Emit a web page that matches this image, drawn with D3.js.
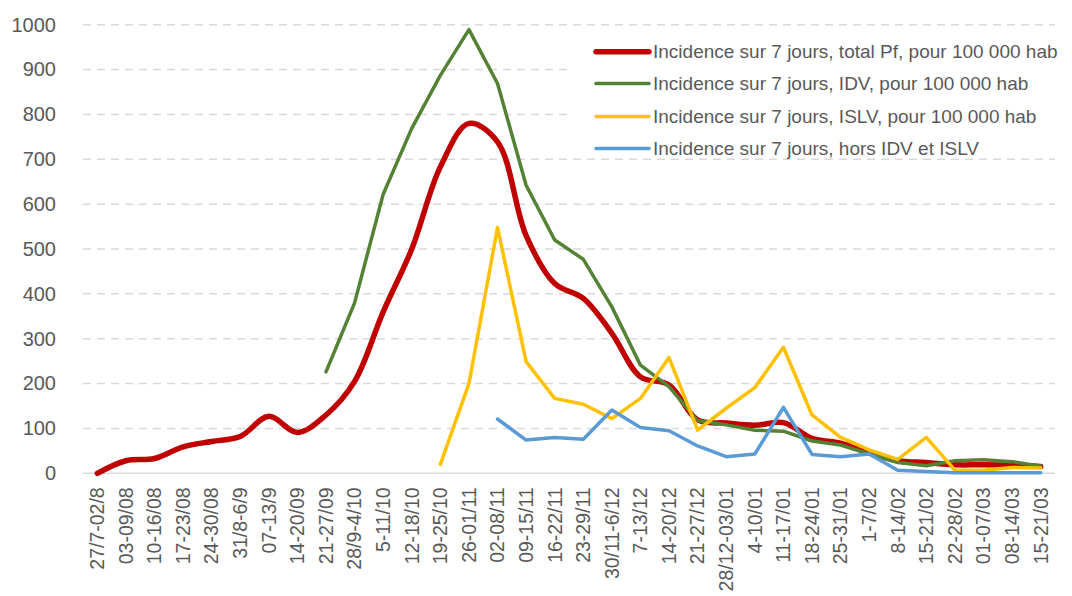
<!DOCTYPE html>
<html>
<head>
<meta charset="utf-8">
<script src="https://cdn.jsdelivr.net/npm/d3@7"></script>
<style>
  body { margin: 0; background: #fff; }
  text { font-family: "Liberation Sans", Arial, sans-serif; fill: #595959; }
</style>
</head>
<body>
<div id="chart"></div>
<script>
// weekly incidence per 100 000 inhabitants

var weeks = ["27/7-02/8", "03-09/08", "10-16/08", "17-23/08", "24-30/08", "31/8-6/9", "07-13/9",
  "14-20/09", "21-27/09", "28/9-4/10", "5-11/10", "12-18/10", "19-25/10", "26-01/11", "02-08/11",
  "09-15/11", "16-22/11", "23-29/11", "30/11-6/12", "7-13/12", "14-20/12", "21-27/12", "28/12-03/01",
  "4-10/01", "11-17/01", "18-24/01", "25-31/01", "1-7/02", "8-14/02", "15-21/02", "22-28/02",
  "01-07/03", "08-14/03", "15-21/03"];

var totalPf = [0, 28, 33, 59, 71, 82, 127, 91, 130, 205, 360, 500, 683, 780, 739, 530, 423, 390,
  312, 215, 197, 119, 112, 107, 113, 78, 67, 46, 28, 24, 19, 19, 18, 15];

var idv = [null, null, null, null, null, null, null, null, 226, 380, 622, 769, 887, 989, 869, 642,
  520, 477, 371, 241, 193, 117, 108, 96, 94, 72, 63, 43, 24, 17, 28, 30, 26, 16];

var islv = [null, null, null, null, null, null, null, null, null, null, null, null, 20, 200, 548,
  249, 167, 154, 122, 167, 258, 96, 145, 191, 281, 130, 80, 52, 31, 80, 7, 7, 13, 12];

var horsIdvIslv = [null, null, null, null, null, null, null, null, null, null, null, null, null,
  null, 121, 74, 80, 76, 141, 102, 95, 61, 37, 43, 147, 42, 37, 43, 7, 4, 1.5, 1.5, 1.5, 1.5];

var yTicks = [0, 100, 200, 300, 400, 500, 600, 700, 800, 900, 1000];

var seriesNames = ["Incidence sur 7 jours, total Pf, pour 100 000 hab",
  "Incidence sur 7 jours, IDV, pour 100 000 hab",
  "Incidence sur 7 jours, ISLV, pour 100 000 hab",
  "Incidence sur 7 jours, hors IDV et ISLV"];

var svgWidth = 1072;
var svgHeight = 596;
var margin = { top: 24.7, right: 17, bottom: 122.7, left: 83 };
var width = svgWidth - margin.left - margin.right;
var height = svgHeight - margin.top - margin.bottom;

var svg = d3.select("#chart").append("svg")
  .attr("width", svgWidth)
  .attr("height", svgHeight);

var chartGroup = svg.append("g")
  .attr("transform", `translate(${margin.left}, ${margin.top})`);

var xScale = d3.scaleBand().domain(weeks).range([0, width]).padding(0);
var yScale = d3.scaleLinear().domain([0, 1000]).range([height, 0]);
var xc = function(i) { return xScale(weeks[i]) + xScale.bandwidth() / 2; };

// gridlines
chartGroup.append("g")
  .selectAll("line")
  .data(yTicks.filter(d => d > 0))
  .enter().append("line")
  .attr("x1", 0).attr("x2", width)
  .attr("y1", d => yScale(d)).attr("y2", d => yScale(d))
  .attr("stroke", "#d9d9d9")
  .attr("stroke-width", 1.5)
  .attr("stroke-dasharray", "8,6");

chartGroup.append("line")
  .attr("x1", 0).attr("x2", width)
  .attr("y1", yScale(0)).attr("y2", yScale(0))
  .attr("stroke", "#d9d9d9")
  .attr("stroke-width", 1.5);

// y axis labels
var leftAxis = d3.axisLeft(yScale).tickValues(yTicks).tickFormat(d3.format("d"))
  .tickSize(0).tickPadding(27);
var yAxisG = chartGroup.append("g").call(leftAxis);
yAxisG.select(".domain").remove();
yAxisG.selectAll("text")
  .attr("font-size", "20px")
  .style("fill", "#595959")
  .style("font-family", "Liberation Sans, Arial, sans-serif");

// x axis labels
var bottomAxis = d3.axisBottom(xScale).tickSize(0);
var xAxisG = chartGroup.append("g")
  .attr("transform", `translate(0, ${height})`)
  .call(bottomAxis);
xAxisG.select(".domain").remove();
xAxisG.selectAll("text")
  .attr("font-size", "19.5px")
  .style("fill", "#595959")
  .style("font-family", "Liberation Sans, Arial, sans-serif")
  .attr("transform", "rotate(-90)")
  .attr("x", -14)
  .attr("y", 0)
  .attr("dy", "0.35em")
  .style("text-anchor", "end");

// lines
var series = [
  { values: totalPf, color: "#c00000", width: 5.5, curve: d3.curveCatmullRom.alpha(0.5) },
  { values: idv, color: "#548235", width: 3.5, curve: d3.curveLinear },
  { values: islv, color: "#ffc000", width: 3.5, curve: d3.curveLinear },
  { values: horsIdvIslv, color: "#5b9bd5", width: 3.5, curve: d3.curveLinear }
];

// draw order: red, green, yellow, blue
series.forEach(function(s) {
  var line = d3.line()
    .defined(d => d != null)
    .x((d, i) => xc(i))
    .y(d => yScale(d))
    .curve(s.curve);
  chartGroup.append("path")
    .datum(s.values)
    .attr("d", line)
    .attr("fill", "none")
    .attr("stroke", s.color)
    .attr("stroke-width", s.width)
    .attr("stroke-linejoin", "round")
    .attr("stroke-linecap", "round");
});

// legend (white box hides gridlines)
var legend = svg.append("g");
legend.append("rect")
  .attr("x", 572).attr("y", 35)
  .attr("width", 500).attr("height", 122)
  .attr("fill", "#fff");
var legendY = [51.7, 83.5, 116.5, 148.5];
series.forEach(function(s, i) {
  legend.append("line")
    .attr("x1", 596).attr("x2", 649)
    .attr("y1", legendY[i]).attr("y2", legendY[i])
    .attr("stroke", s.color)
    .attr("stroke-width", s.width)
    .attr("stroke-linecap", "round");
  legend.append("text")
    .attr("x", 653)
    .attr("y", legendY[i])
    .attr("dy", "0.35em")
    .attr("font-size", "19px")
    .text(seriesNames[i]);
});
</script>
</body>
</html>
